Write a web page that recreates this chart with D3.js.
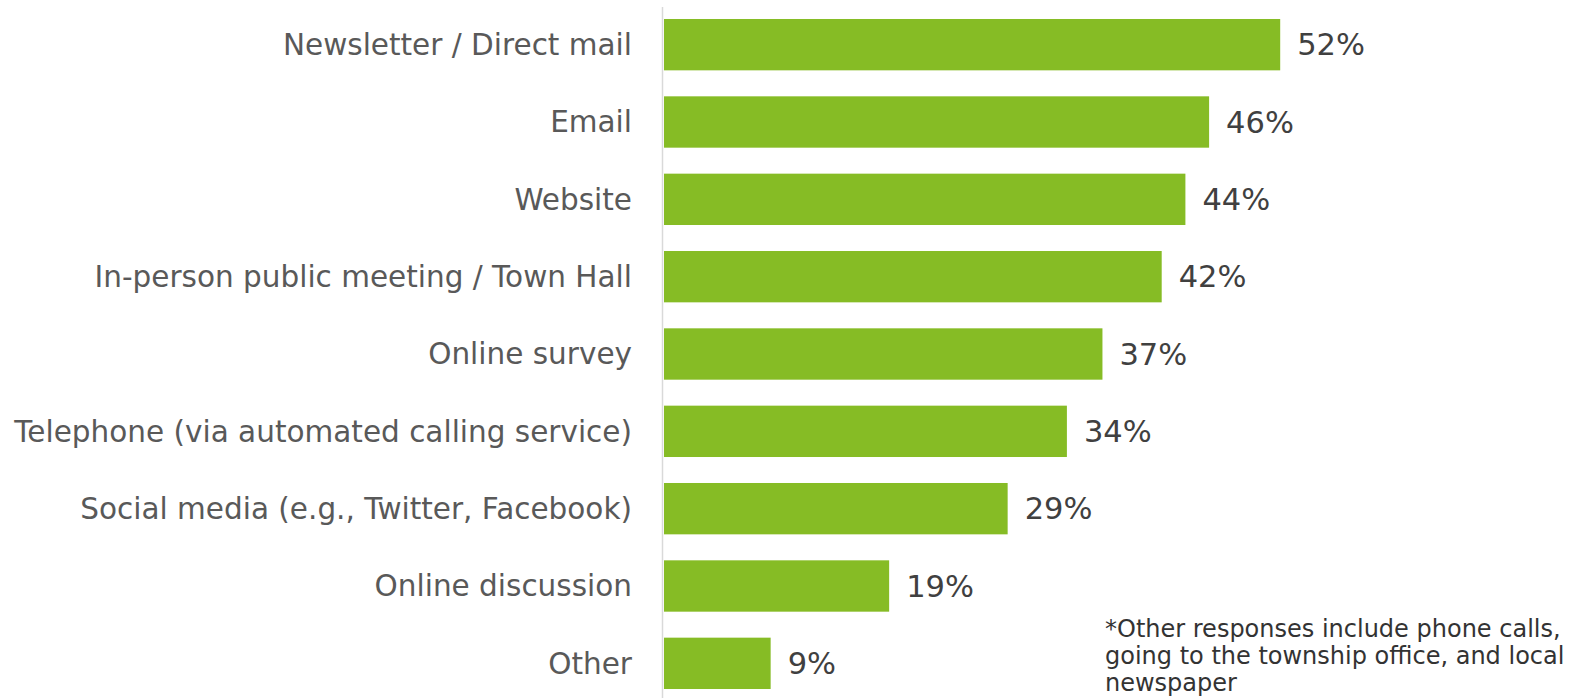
<!DOCTYPE html>
<html><head><meta charset="utf-8">
<script src="https://cdn.jsdelivr.net/npm/d3@7"></script>
<style>html,body{margin:0;padding:0;background:#fff;overflow:hidden}</style>
</head><body>
<svg id="chart" width="1573" height="698"></svg>
<script>
const categories = ["Newsletter / Direct mail","Email","Website","In-person public meeting / Town Hall","Online survey","Telephone (via automated calling service)","Social media (e.g., Twitter, Facebook)","Online discussion","Other"];
const values = [52,46,44,42,37,34,29,19,9];
const valueLabels = ["52%","46%","44%","42%","37%","34%","29%","19%","9%"];
const noteLines = ["*Other responses include phone calls,","going to the township office, and local","newspaper"];

const svg = d3.select("#chart");
const font = "Verdana, 'DejaVu Sans', sans-serif";
const x = d3.scaleLinear().domain([0,100]).range([664, 664+1185]);
const y = d3.scaleBand().domain(categories).range([6, 702]).paddingInner(0.336).paddingOuter(0.168);

svg.append("line").attr("x1",662.5).attr("x2",662.5).attr("y1",7).attr("y2",698)
  .attr("stroke","#d9d9d9").attr("stroke-width",1.5);

svg.selectAll("rect.bar").data(categories).join("rect").attr("class","bar")
  .attr("x", x(0)).attr("y", d=>y(d)).attr("height", y.bandwidth())
  .attr("width", (d,i)=>x(values[i])-x(0)).attr("fill","#86bc25");

svg.selectAll("text.cat").data(categories).join("text").attr("class","cat")
  .attr("x", 632).attr("y", d=>y(d)+y.bandwidth()/2).attr("dy","0.35em")
  .attr("text-anchor","end").attr("font-family",font).attr("font-size",29.5)
  .attr("fill","#595959").text(d=>d);

svg.selectAll("text.val").data(categories).join("text").attr("class","val")
  .attr("x", (d,i)=>x(values[i])+17).attr("y", d=>y(d)+y.bandwidth()/2).attr("dy","0.35em")
  .attr("font-family",font).attr("font-size",30.5).attr("fill","#404040")
  .text((d,i)=>valueLabels[i]);

svg.append("g").selectAll("text").data(noteLines).join("text")
  .attr("x",1105).attr("y",(d,i)=>636.5+i*27)
  .attr("font-family",font).attr("font-size",24).attr("fill","#333333").text(d=>d);
</script>
</body></html>
